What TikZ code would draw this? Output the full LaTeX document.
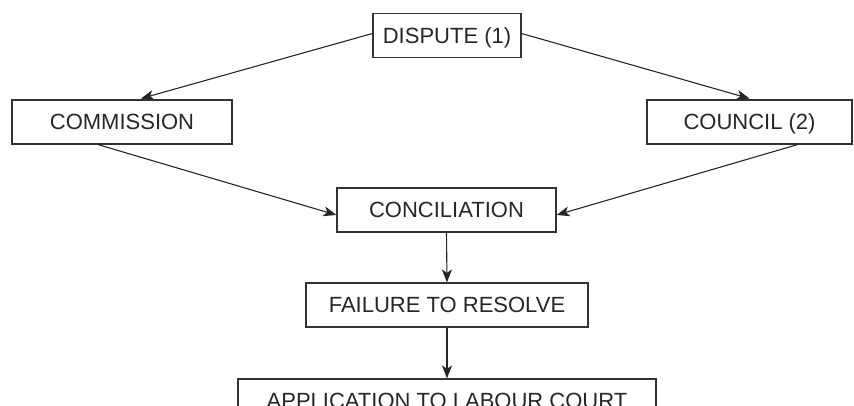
\documentclass[tikz,border=0pt]{standalone}
\usepackage{fontspec}
\setmainfont{Liberation Sans}
\usetikzlibrary{arrows.meta}

\begin{document}
\begin{tikzpicture}[x=1pt,y=1pt,
		box/.style={draw=black!80,line width=1.2pt,inner sep=0pt,minimum height=44pt,text height=15.8pt,text depth=0pt,text=black!85,font=\fontsize{22}{24}\selectfont},
		arr/.style={draw=black!85,line width=1.1pt,-{Stealth[length=13pt,width=10pt,inset=3.5pt]}}]
		\useasboundingbox (0,0) rectangle (854,405);
		\clip (0,0) rectangle (854,405);

		\node[box,minimum width=148pt] (dispute) at (447,369.5) {DISPUTE (1)};
		\node[box,minimum width=220pt] (commission) at (122,283) {COMMISSION};
		\node[box,minimum width=205pt] (council) at (749.5,283) {COUNCIL (2)};
		\node[box,minimum width=219pt] (conciliation) at (446.5,195) {CONCILIATION};
		\node[box,minimum width=282pt] (failure) at (447,100) {FAILURE TO RESOLVE};
		\node[box,minimum width=418pt] (application) at (447,4) {APPLICATION TO LABOUR COURT};

		\draw[arr,shorten >=3pt] ([yshift=2pt]dispute.west) -- ([xshift=16pt]commission.north);
		\draw[arr,shorten >=3pt] ([yshift=2pt]dispute.east) -- ([xshift=3pt]council.north);
		\draw[arr] ([xshift=-24pt]commission.south) -- ([yshift=-5pt]conciliation.west);
		\draw[arr] ([xshift=48pt]council.south) -- ([yshift=-5pt]conciliation.east);
		\draw[arr] (conciliation.south) -- (failure.north);
		\draw[arr] (failure.south) -- (application.north);
\end{tikzpicture}
\end{document}
